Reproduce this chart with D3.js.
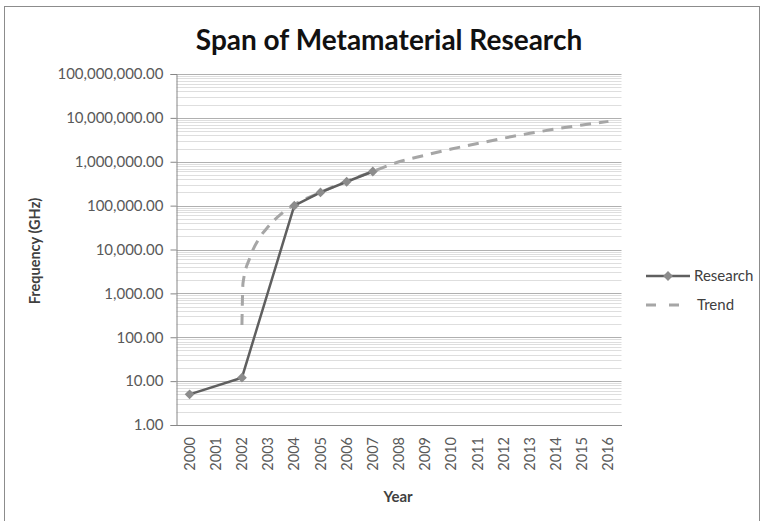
<!DOCTYPE html>
<html>
<head>
<meta charset="utf-8">
<script src="https://cdnjs.cloudflare.com/ajax/libs/d3/7.8.5/d3.min.js"></script>
<style>
  body { margin: 0; background: #fff; }
  text { font-family: Lato, "Open Sans", sans-serif; }
</style>
</head>
<body>
<svg id="chart"></svg>
<script>
var w = 764;
var h = 521;

// categories on the x axis
let years = ["2000", "2001", "2002", "2003", "2004", "2005", "2006", "2007", "2008",
    "2009", "2010", "2011", "2012", "2013", "2014", "2015", "2016"];
// research series (2001 has no value)
let researchYears = [2000, 2002, 2004, 2005, 2006, 2007];
let researchValues = [5, 12, 100000, 200000, 350000, 600000];
// trend curve (extra points near 2002 where it turns vertical)
let trendYears = [2002.0, 2002.04, 2002.32, 2002.7, 2003, 2003.5, 2004, 2005, 2006, 2007,
    2008, 2009, 2010, 2011, 2012, 2013, 2014, 2015, 2016];
let trendValues = [190, 1700, 6900, 19500, 33000, 65000, 105000, 200000, 360000, 600000,
    1000000, 1410000, 1950000, 2600000, 3450000, 4450000, 5600000, 6900000, 8300000];
let yTicks = [1, 10, 100, 1000, 10000, 100000, 1000000, 10000000, 100000000];

var svg = d3.select("#chart")
    .attr("width", w)
    .attr("height", h);

// outer chart border
svg.append("rect")
    .attr("x", 4.5).attr("y", 6.5)
    .attr("width", 755).attr("height", 530)
    .attr("fill", "none")
    .attr("stroke", "#8c8c8c");

var pLeft = 176.5, pRight = 621.5, pTop = 74, pBottom = 425;

var x = d3.scaleBand()
    .domain(years)
    .range([pLeft, pRight]);
// same positions on a continuous year scale for the lines
var xc = d3.scaleLinear()
    .domain([1999.5, 2016.5])
    .range([pLeft, pRight]);
var y = d3.scaleLog()
    .domain([1, 1e8])
    .range([pBottom, pTop]);

// minor gridlines
var minor = [];
yTicks.slice(0, -1).forEach(t => {
    for (var k = 2; k <= 9; k++) minor.push(t * k);
});
svg.append("g").selectAll("line")
    .data(minor)
    .enter()
    .append("line")
    .attr("x1", pLeft).attr("x2", pRight)
    .attr("y1", d => Math.round(y(d)) + 0.5)
    .attr("y2", d => Math.round(y(d)) + 0.5)
    .attr("stroke", "#dedede")
    .attr("stroke-width", 1);

// major gridlines
svg.append("g").selectAll("line")
    .data(yTicks.slice(1))
    .enter()
    .append("line")
    .attr("x1", pLeft).attr("x2", pRight)
    .attr("y1", d => Math.round(y(d)) + 0.5)
    .attr("y2", d => Math.round(y(d)) + 0.5)
    .attr("stroke", "#b0b0b0")
    .attr("stroke-width", 1.2);

// y axis
var yAxis = svg.append("g")
    .attr("transform", `translate(${pLeft},0)`)
    .call(d3.axisLeft(y)
        .tickValues(yTicks)
        .tickSize(6)
        .tickPadding(7)
        .tickFormat(d3.format(",.2f")));
yAxis.select(".domain").attr("stroke", "#868686");
yAxis.selectAll(".tick line").attr("stroke", "#868686");
yAxis.selectAll("text")
    .attr("font-size", 15)
    .attr("fill", "#595959")
    .style("font-family", "Lato, sans-serif");

// x axis
var xAxis = svg.append("g")
    .attr("transform", `translate(0,${pBottom})`)
    .call(d3.axisBottom(x).tickSize(0).tickPadding(0));
xAxis.select(".domain").attr("stroke", "#868686");
xAxis.selectAll("text")
    .attr("font-size", 14.5)
    .attr("fill", "#595959")
    .attr("text-anchor", "end")
    .attr("dy", "0.35em")
    .attr("transform", "translate(0,12) rotate(-90)")
    .attr("x", 0).attr("y", 0)
    .style("font-family", "Lato, sans-serif");

// trend line
var trendLine = d3.line()
    .x((d, i) => xc(trendYears[i]))
    .y(d => y(d))
    .curve(d3.curveMonotoneX);
svg.append("path")
    .attr("d", trendLine(trendValues))
    .attr("fill", "none")
    .attr("stroke", "#a6a6a6")
    .attr("stroke-width", 3)
    .attr("stroke-dasharray", "11,8");

// research line
var researchLine = d3.line()
    .x((d, i) => xc(researchYears[i]))
    .y(d => y(d));
svg.append("path")
    .attr("d", researchLine(researchValues))
    .attr("fill", "none")
    .attr("stroke", "#5f5f5f")
    .attr("stroke-width", 2.5);

// diamond markers: a square turned 45 degrees
var diamond = d3.symbol().type(d3.symbolSquare).size(48);
svg.append("g").selectAll("path")
    .data(researchValues)
    .enter()
    .append("path")
    .attr("d", diamond)
    .attr("transform", (d, i) => `translate(${xc(researchYears[i])},${y(d)}) rotate(45)`)
    .attr("fill", "#8c8c8c");

// title and axis titles
svg.append("text")
    .attr("x", 389).attr("y", 50)
    .attr("text-anchor", "middle")
    .attr("font-size", 28)
    .attr("font-weight", "bold")
    .attr("fill", "#111")
    .text("Span of Metamaterial Research");
svg.append("text")
    .attr("transform", "translate(40,251) rotate(-90)")
    .attr("text-anchor", "middle")
    .attr("font-size", 14.5)
    .attr("font-weight", "bold")
    .attr("fill", "#404040")
    .text("Frequency (GHz)");
svg.append("text")
    .attr("x", 398).attr("y", 502)
    .attr("text-anchor", "middle")
    .attr("font-size", 15)
    .attr("font-weight", "bold")
    .attr("fill", "#404040")
    .text("Year");

// legend
var lg = svg.append("g");
lg.append("line")
    .attr("x1", 646).attr("x2", 690).attr("y1", 276).attr("y2", 276)
    .attr("stroke", "#5f5f5f").attr("stroke-width", 2.5);
lg.append("path")
    .attr("d", diamond)
    .attr("transform", "translate(668,276) rotate(45)")
    .attr("fill", "#8c8c8c");
lg.append("text")
    .attr("x", 694).attr("y", 281)
    .attr("font-size", 15).attr("fill", "#404040")
    .text("Research");
lg.append("line")
    .attr("x1", 646).attr("x2", 681).attr("y1", 305).attr("y2", 305)
    .attr("stroke", "#a6a6a6").attr("stroke-width", 3)
    .attr("stroke-dasharray", "10,13");
lg.append("text")
    .attr("x", 697).attr("y", 310)
    .attr("font-size", 15).attr("fill", "#404040")
    .text("Trend");
</script>
</body>
</html>
